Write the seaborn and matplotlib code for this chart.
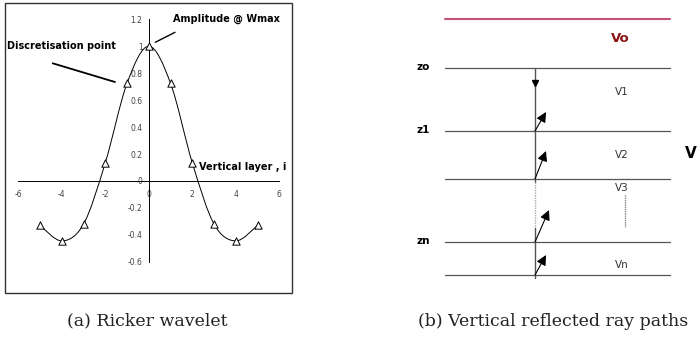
import numpy as np
import matplotlib
matplotlib.use("Agg")
import matplotlib.pyplot as plt
from matplotlib.path import Path
from matplotlib.patches import PathPatch, Rectangle
import seaborn as sns
import pandas as pd

sns.set_style("white")
plt.rcParams['font.family'] = ['DejaVu Sans']
plt.rcParams['text.color'] = 'black'

# ---------------- data: panel (a) Ricker wavelet ----------------
layer_i = [-5, -4, -3, -2, -1, 0, 1, 2, 3, 4, 5]
amplitude = [-0.33, -0.445, -0.32, 0.135, 0.725, 1.0, 0.725, 0.135, -0.32, -0.445, -0.33]
x_ticks = [-6, -4, -2, 0, 2, 4, 6]
y_ticks = [-0.6, -0.4, -0.2, 0, 0.2, 0.4, 0.6, 0.8, 1.0, 1.2]
y_tick_labels = ["-0.6", "-0.4", "-0.2", "0", "0.2", "0.4", "0.6", "0.8", "1", "1.2"]

# ---------------- data: panel (b) layered model ----------------
interface_names = ["zo", "z1", "", "zn", ""]
interface_depth = [68, 131, 179, 242, 275]
velocity_labels = ["V1", "V2", "V3", "Vn"]
velocity_depth = [92, 155, 188, 265]

W, H = 698, 337
fig = plt.figure(figsize=(W / 100, H / 100), dpi=100)

def fx(px):
    return px / W

def fy(py):
    return 1 - py / H

# overlay axes in pixel coords for frames / captions / diagram
ov = fig.add_axes([0, 0, 1, 1])
ov.set_xlim(0, W)
ov.set_ylim(H, 0)
ov.axis("off")

# frame of panel (a)
ov.add_patch(Rectangle((5, 3), 287, 290, fill=False, ec="#333333", lw=1.0))

# ---------------- panel (a) ----------------
x0p, x1p = 18.3, 279.3
ytop, ybot = 19.3, 261.8
ax = fig.add_axes([fx(x0p), fy(ybot), fx(x1p) - fx(x0p), fy(ytop) - fy(ybot)])
ax.set_facecolor("none")
df = pd.DataFrame({"i": layer_i, "amp": amplitude})

# smoothed (Excel-like) line through the points
pts = np.column_stack([layer_i, amplitude]).astype(float)
ext = np.vstack([pts[0], pts, pts[-1]])
verts = [tuple(pts[0])]
codes = [Path.MOVETO]
for k in range(1, len(ext) - 2):
    p0, p1, p2, p3 = ext[k - 1], ext[k], ext[k + 1], ext[k + 2]
    c1 = p1 + (p2 - p0) / 6.0
    c2 = p2 - (p3 - p1) / 6.0
    verts += [tuple(c1), tuple(c2), tuple(p2)]
    codes += [Path.CURVE4] * 3
ax.add_patch(PathPatch(Path(verts, codes), fill=False, ec="black", lw=0.7, zorder=2))

sns.scatterplot(data=df, x="i", y="amp", ax=ax, marker="^", s=28,
                facecolor="white", edgecolor="black", linewidth=0.7, zorder=3)

ax.set_xlim(-6, 6)
ax.set_ylim(-0.6, 1.2)
ax.set_xlabel("")
ax.set_ylabel("")
for s in ["top", "right"]:
    ax.spines[s].set_visible(False)
ax.spines["left"].set_position(("data", 0))
ax.spines["bottom"].set_position(("data", 0))
for s in ["left", "bottom"]:
    ax.spines[s].set_color("black")
    ax.spines[s].set_linewidth(0.7)
ax.set_xticks(x_ticks)
ax.set_xticklabels([str(v) for v in x_ticks])
ax.set_yticks(y_ticks)
ax.set_yticklabels(y_tick_labels)
ax.tick_params(axis="both", direction="out", length=2.5, width=0.6, color="black",
               labelsize=5.5, labelcolor="#444444", pad=2)
ax.tick_params(axis="x", pad=4)

# annotations
ov.text(173, 19, "Amplitude @ Wmax", fontsize=7, fontweight="bold", va="center", ha="left")
ov.plot([155.3, 175], [42.3, 32.3], color="black", lw=1.0)
ov.text(7, 45.7, "Discretisation point", fontsize=7, fontweight="bold", va="center", ha="left")
ov.plot([52.7, 115], [63.3, 82], color="black", lw=1.3)
ov.text(199, 167.3, "Vertical layer , i", fontsize=7, fontweight="bold", va="center", ha="left")

# ---------------- panel (b) ----------------
xl, xr = 445, 670
xv = 535
ov.plot([xl, xr], [19.3, 19.3], color="#c4507e", lw=1.5)
ov.text(620, 38, "Vo", color="#8b1414", fontsize=9.5, fontweight="bold", ha="center", va="center")
for name, d in zip(interface_names, interface_depth):
    ov.plot([xl, xr], [d, d], color="#555555", lw=0.9)
    if name:
        ov.text(423, d - 1, name, fontsize=7.5, fontweight="bold", ha="center", va="center")
for lab, d in zip(velocity_labels, velocity_depth):
    ov.text(622, d, lab, fontsize=7.5, color="#333333", ha="center", va="center")
ov.plot([625, 625], [195, 227], color="#888888", lw=1.0, ls=(0, (1, 0.6)))
# vertical ray
ov.plot([xv, xv], [68, 182], color="#555555", lw=1.0)
ov.plot([xv, xv], [182, 228], color="#aaaaaa", lw=1.0, ls=(0, (1, 0.8)))
ov.plot([xv, xv], [228, 278], color="#555555", lw=1.0)
ov.plot([xv], [83], marker="v", color="black", markersize=5)
# reflected arrows
arrow_tips = [(546, 112), (546, 151), (549, 210), (546, 255)]
arrow_bases = [131, 179, 242, 275]
for (tx, ty), by in zip(arrow_tips, arrow_bases):
    ov.annotate("", xy=(tx, ty), xytext=(xv, by),
                arrowprops=dict(arrowstyle="-|>,head_length=0.6,head_width=0.3",
                                color="black", lw=0.8, shrinkA=0, shrinkB=0))
ov.text(685, 154, "V", fontsize=11, fontweight="bold", ha="left", va="center")

# captions
ov.text(147, 321, "(a) Ricker wavelet", fontsize=12.5, family="DejaVu Serif",
        ha="center", va="center", color="#222222")
ov.text(553, 321, "(b) Vertical reflected ray paths", fontsize=12.5, family="DejaVu Serif",
        ha="center", va="center", color="#222222")

fig.savefig("out.png", dpi=100)
